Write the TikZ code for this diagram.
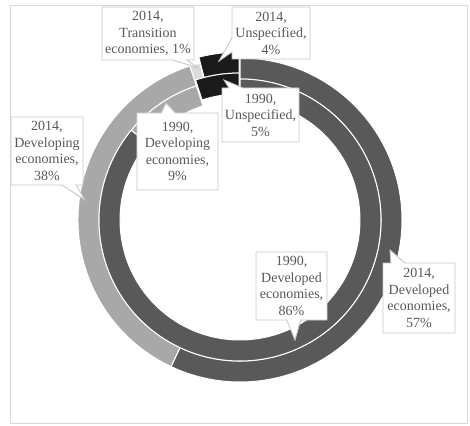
\documentclass[tikz,border=0pt]{standalone}
\usepackage{fontspec}
\setmainfont{Liberation Serif}
\usepackage{tikz}
\usetikzlibrary{shapes.callouts}

\definecolor{devd}{RGB}{89,89,89}
\definecolor{devg}{RGB}{168,168,168}
\definecolor{trans}{RGB}{220,220,220}
\definecolor{unsp}{RGB}{26,26,26}
\definecolor{boxline}{RGB}{200,200,200}
\definecolor{labeltext}{RGB}{89,89,89}

\tikzset{
  callbox/.style={rectangle callout, draw=boxline, fill=white, line width=0.9pt,
    text=labeltext, align=center, inner sep=1pt, callout pointer width=14pt,
    font=\fontsize{14}{16.5}\selectfont}
}

\begin{document}
\begin{tikzpicture}[x=1pt,y=1pt]
      \useasboundingbox (-240,-205) rectangle (230,220);
      \draw[boxline!70, line width=1pt] (-229,-203) rectangle (227,214);

      % outer ring: 2014
      \foreach \a/\b/\col in {0/57/devd, 57/95/devg, 95/96/trans}
      { \fill[\col, draw=white, line width=1pt]
          ({90-3.6*\a}:162) arc[start angle={90-3.6*\a}, end angle={90-3.6*\b}, radius=162]
          -- ({90-3.6*\b}:141) arc[start angle={90-3.6*\b}, end angle={90-3.6*\a}, radius=141] -- cycle;
      }
      % inner ring: 1990
      \foreach \a/\b/\col in {0/86/devd, 86/95/devg}
      { \fill[\col, draw=white, line width=1pt]
          ({90-3.6*\a}:141) arc[start angle={90-3.6*\a}, end angle={90-3.6*\b}, radius=141]
          -- ({90-3.6*\b}:120) arc[start angle={90-3.6*\b}, end angle={90-3.6*\a}, radius=120] -- cycle;
      }
      % unspecified slices, pulled out a little
      \begin{scope}[shift={(98:6)}]
        \fill[unsp, draw=white, line width=1pt]
          (-255.6:162) arc[start angle=-255.6, end angle=-270, radius=162]
          -- (-270:141) arc[start angle=-270, end angle=-255.6, radius=141] -- cycle;
        \fill[unsp, draw=white, line width=1pt]
          (-252:141) arc[start angle=-252, end angle=-270, radius=141]
          -- (-270:120) arc[start angle=-270, end angle=-252, radius=120] -- cycle;
      \end{scope}

      \path (-92,186.5) node[callbox, minimum width=92, minimum height=53,
                 callout absolute pointer={(-42,152)}] (trans14)
                 {2014,\\Transition\\economies, 1\%};
      \path (31,187) node[callbox, minimum width=78, minimum height=52,
                 callout absolute pointer={(-21,159)}] (unsp14)
                 {2014,\\Unspecified,\\4\%};
      \path (20.5,105) node[callbox, minimum width=77, minimum height=54,
                 callout absolute pointer={(-16,140)}] (unsp90)
                 {1990,\\Unspecified,\\5\%};
      \path (-62.5,68.5) node[callbox, minimum width=81, minimum height=77,
                 callout absolute pointer={(-74,117)}] (devg90)
                 {1990,\\Developing\\economies,\\9\%};
      \path (-193,69) node[callbox, minimum width=72, minimum height=68,
                 callout absolute pointer={(-155,20)}] (devg14)
                 {2014,\\Developing\\economies,\\38\%};
      \path (51.5,-66) node[callbox, minimum width=71, minimum height=68,
                 callout absolute pointer={(55,-120)}] (devd90)
                 {1990,\\Developed\\economies,\\86\%};
      \path (179,-78) node[callbox, minimum width=72, minimum height=70,
                 callout absolute pointer={(150,-30)}] (devd14)
                 {2014,\\Developed\\economies,\\57\%};
\end{tikzpicture}
\end{document}
